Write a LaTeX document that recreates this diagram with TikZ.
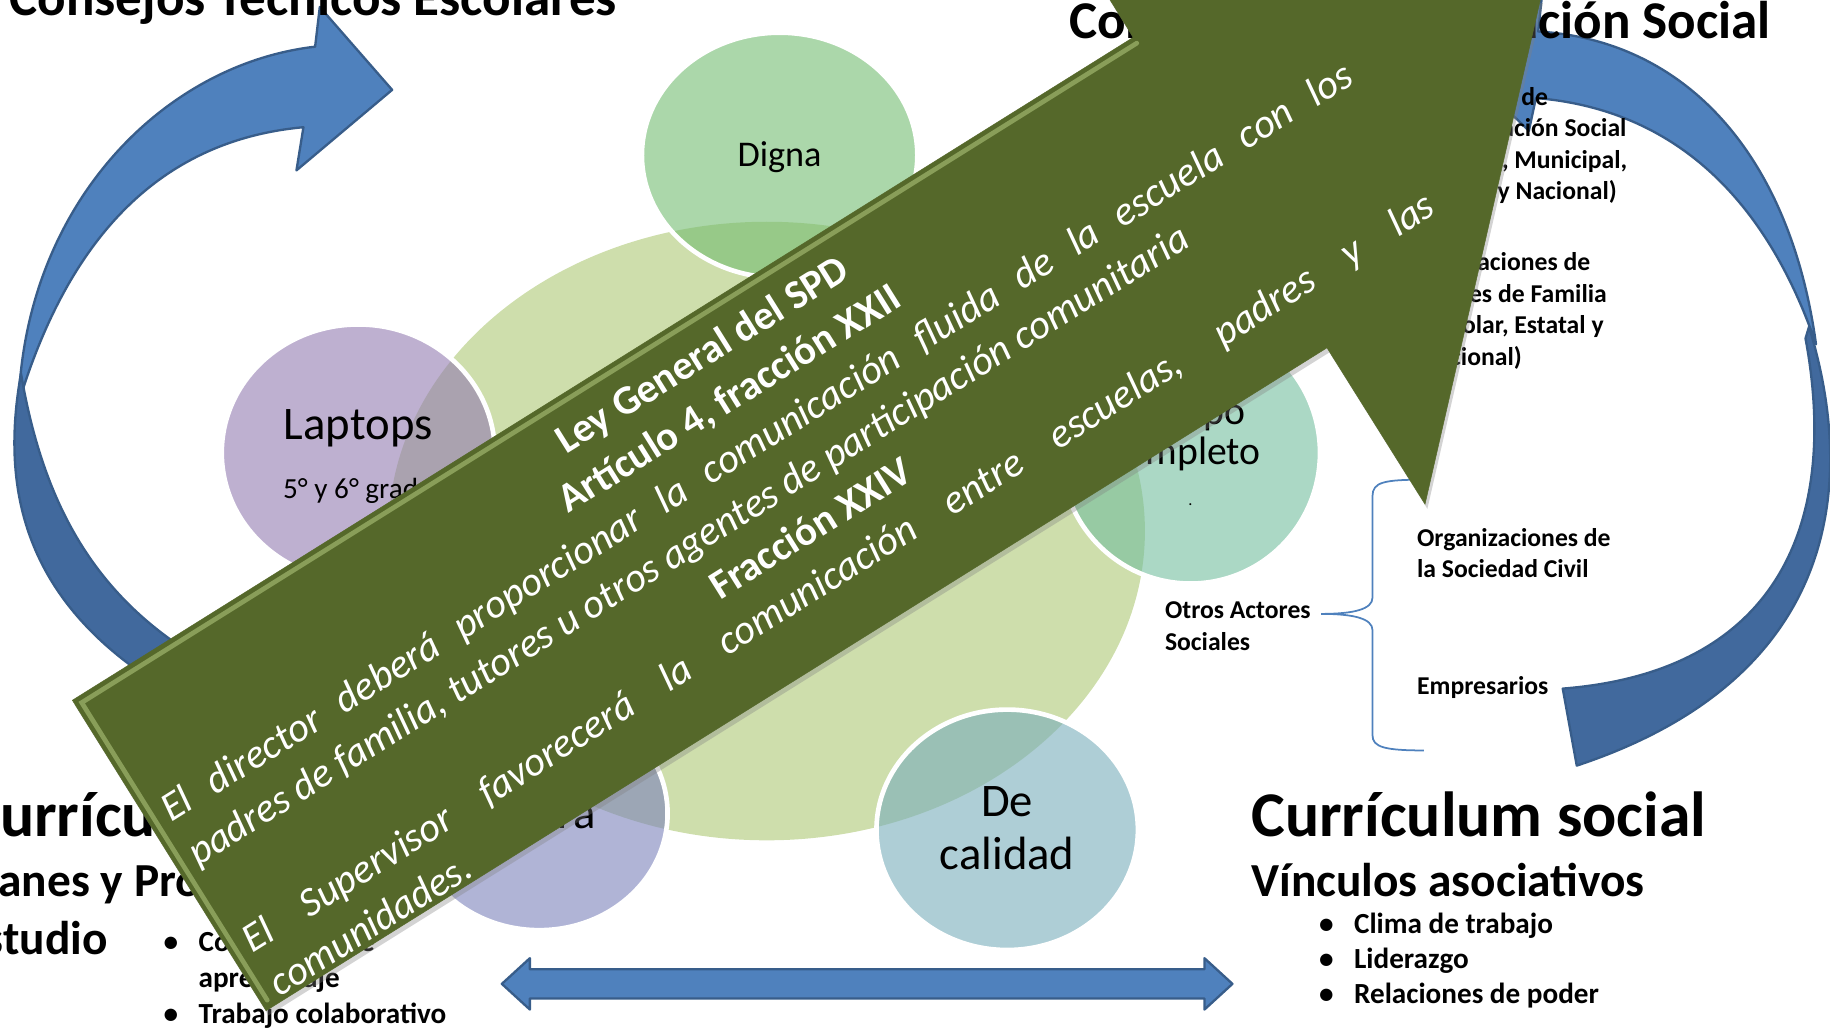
\documentclass[tikz,border=0pt]{standalone}
\usepackage{fontspec}
\setmainfont{Carlito}
\usetikzlibrary{shadows}

\definecolor{azul}{RGB}{79,129,189}
\definecolor{azuloscuro}{RGB}{65,105,157}
\definecolor{bordeazul}{RGB}{56,93,138}
\definecolor{olivo}{RGB}{85,104,42}
\definecolor{olivoclaro}{RGB}{160,182,110}
\definecolor{fondo}{RGB}{206,222,172}
\definecolor{cdigna}{RGB}{115,188,113}
\definecolor{claptops}{RGB}{147,123,177}
\definecolor{ctiempo}{RGB}{115,190,158}
\definecolor{csegura}{RGB}{123,130,187}
\definecolor{ccalidad}{RGB}{120,173,187}

\newcommand{\tam}[2]{\fontsize{#1}{#2}\selectfont}

% en nodos de varias lineas, "base" es la linea de base de la ultima linea
\tikzset{
  cinta/.style={draw=bordeazul, line width=2pt, line join=round},
  burbuja/.style={draw=white, line width=4pt, fill opacity=0.6},
  titulo/.style={font=\bfseries\tam{45.5}{50}, anchor=base west, inner sep=0pt},
  curriculo/.style={font=\bfseries\tam{54.6}{60}, anchor=base west, inner sep=0pt},
  subtitulo/.style={font=\bfseries\tam{40.6}{50}, anchor=base west, inner sep=0pt, align=left},
  vineta/.style={font=\bfseries\tam{25}{31}, anchor=base west, inner sep=0pt, align=left},
  lista/.style={font=\bfseries\tam{22}{27}, anchor=base west, inner sep=0pt, align=left},
  rotulo/.style={font=\tam{40}{45}, align=center, anchor=base, inner sep=0pt},
  llave/.style={draw=azul, line width=1.5pt},
}

\begin{document}
\begin{tikzpicture}[x=1pt, y=-1pt]
  \useasboundingbox (0,0) rectangle (1568,883);
  \clip (0,0) rectangle (1568,883);

  % flechas curvas azules
  \draw[cinta, fill=azul] (16,345) .. controls (22,175) and (140,55) .. (270,40)
    -- (274,6) -- (336,77) -- (254,146) -- (260,109)
    .. controls (140,120) and (60,200) .. (16,345) -- cycle;
  \draw[cinta, fill=azuloscuro] (18,320) .. controls (0,420) and (20,520) .. (150,595)
    -- (190,575) .. controls (95,525) and (40,450) .. (18,320) -- cycle;
  \draw[cinta, fill=azul] (1318,27) .. controls (1450,35) and (1535,140) .. (1556,295)
    .. controls (1520,190) and (1450,95) .. (1316,84)
    -- (1310,112) -- (1240,45) -- (1322,-12) -- cycle;
  \draw[cinta, fill=azuloscuro] (1550,280) .. controls (1590,410) and (1580,580) .. (1351,656)
    -- (1339,590) .. controls (1530,575) and (1575,440) .. (1547,290) -- cycle;

  % circulos
  \fill[fondo] (657,455) ellipse (324pt and 265pt);
  \filldraw[burbuja, fill=cdigna] (668,133) ellipse (118pt and 105pt);
  \filldraw[burbuja, fill=claptops] (307,388) ellipse (117pt and 110pt);
  \filldraw[burbuja, fill=ctiempo] (1020,388) ellipse (111pt and 112pt);
  \filldraw[burbuja, fill=csegura] (462,697) ellipse (110pt and 100pt);
  \filldraw[burbuja, fill=ccalidad] (863,711) ellipse (112pt and 103pt);

  \node[rotulo, font=\tam{31}{36}] (digna) at (668,143) {Digna};
  \node[rotulo] (laptops) at (307,377) {Laptops};
  \node[rotulo, font=\tam{25}{30}] (grado) at (307,427) {5° y 6° grado};
  \node[rotulo, font=\tam{34}{34}] (tiempo) at (1015,398) {Tiempo\\completo};
  \node[rotulo, font=\tam{14}{16}] (punto) at (1020,433) {.};
  \node[rotulo] (segura) at (455,710) {Segura};
  \node[rotulo] (calidad) at (863,745) {De\\calidad};

  % titulos
  \node[titulo] (tecnicos) at (8,13) {Consejos Técnicos Escolares};
  \node[titulo] (participacion) at (916,33) {Consejos de Participación Social};

  % actores
  \node[lista] (consejos) at (1217,171) {Consejos de\\Participación Social\\(Escolar, Municipal,\\Estatal y Nacional)};
  \node[lista] (padres) at (1217,313) {Asociaciones de\\Padres de Familia\\(Escolar, Estatal y\\Nacional)};
  \node[lista] (osc) at (1214,495) {Organizaciones de\\la Sociedad Civil};
  \node[lista] (empresarios) at (1214,595) {Empresarios};
  \node[lista] (otros) at (998,557) {Otros Actores\\Sociales};
  \coordinate (punta) at (1132,526);
  \coordinate (llavearriba) at (1220,411);
  \coordinate (llaveabajo) at (1220,643);
  \draw[llave] (llavearriba) .. controls (1186,411) and (1176,413) .. (1176,425) -- (1176,512)
    .. controls (1176,522) and (1160,526) .. (punta)
    .. controls (1160,526) and (1176,530) .. (1176,540) -- (1176,630)
    .. controls (1176,640) and (1186,643) .. (llaveabajo);

  % curriculos
  \node[curriculo] (csocial) at (1072,717) {Currículum social};
  \node[subtitulo] (vinculos) at (1072,768) {Vínculos asociativos};
  \node[vineta] (clima) at (1160,800) {Clima de trabajo};
  \node[vineta] (liderazgo) at (1160,830) {Liderazgo};
  \node[vineta] (poder) at (1160,860) {Relaciones de poder};
  \foreach \y in {800,830,860}
    \node[vineta] (bala\y) at (1130,\y) {\textbullet};

  \node[curriculo] (cformal) at (-29,717) {Currículum formal};
  \node[subtitulo] (planes) at (-33,818) {Planes y Programas de\\Estudio};
  \node[vineta] (comunidad) at (170,846) {Comunidad de\\aprendizaje};
  \node[vineta] (trabajo) at (170,877) {Trabajo colaborativo};
  \foreach \y in {815,877}
    \node[vineta] (punto\y) at (140,\y) {\textbullet};

  % flecha doble
  \coordinate (izq) at (430,843);
  \coordinate (der) at (1056,843);
  \draw[cinta, fill=azul] (izq) -- (454,821) -- (454,830.5) -- (1032,830.5) -- (1032,821)
    -- (der) -- (1032,865) -- (1032,855.5) -- (454,855.5) -- (454,865) -- cycle;

  % flecha verde
  \draw[olivo, fill=olivo, drop shadow={opacity=0.35, shadow xshift=2pt, shadow yshift=-4pt}]
    (62,600) -- (228,866) -- (1137,298) -- (1221,432) -- (1320,-1) -- (888,-102) -- (971,32) -- cycle;
  \draw[olivoclaro, line width=4pt, line cap=round, opacity=0.7]
    (229,857) -- (70,602) -- (974,37);
  \node[rotate=32, text=white, inner sep=0pt] (ley) at (671,415) {%
    \begin{minipage}{1197pt}\tam{35}{44}\tolerance=10000\hbadness=10000\hyphenpenalty=10000
      {\centering\bfseries Ley General del SPD\\ Artículo 4, fracción XXII\par}
      {\itshape El director deberá proporcionar la comunicación fluida de la escuela con los\linebreak
      padres de familia, tutores u otros agentes de participación comunitaria\par}
      {\centering\bfseries Fracción XXIV\par}
      {\itshape El Supervisor favorecerá la comunicación entre escuelas, padres y las\linebreak
      comunidades.\par}
    \end{minipage}};
\end{tikzpicture}
\end{document}
